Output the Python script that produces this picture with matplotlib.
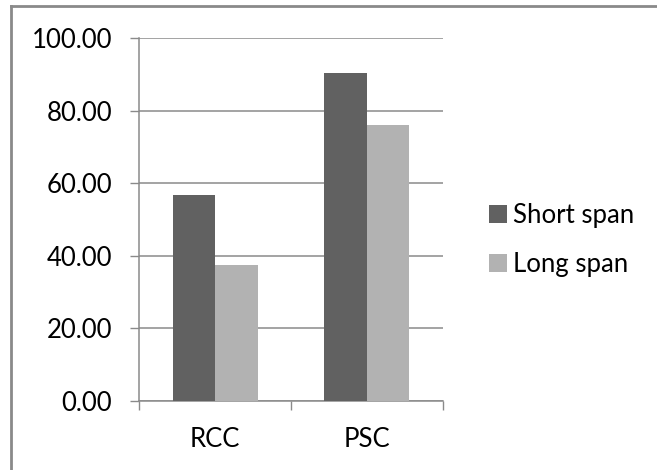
import numpy as np
import matplotlib.pyplot as plt
from matplotlib.lines import Line2D
from matplotlib.ticker import FormatStrFormatter

plt.rcParams['font.family'] = ['Lato', 'DejaVu Sans']

categories = ['RCC', 'PSC']
short_span = [56.7, 90.4]
long_span = [37.5, 76.1]
series_names = ['Short span', 'Long span']

dark = '#616161'
light = '#b2b2b2'
axis_grey = '#8a8a8a'
fs = 18.5

fig = plt.figure(figsize=(6.57, 4.70), dpi=100)
ax = fig.add_axes([139.3 / 657, 1 - 400.7 / 470, (442.7 - 139.3) / 657, (400.7 - 38.3) / 470])

x = np.arange(len(categories))
w = 0.28
ax.bar(x - w / 2, short_span, w, color=dark, label=series_names[0], zorder=3)
ax.bar(x + w / 2, long_span, w, color=light, label=series_names[1], zorder=3)

ax.set_xlim(-0.5, len(categories) - 0.5)
ax.set_ylim(0, 100)
ax.set_yticks(np.arange(0, 101, 20))
ax.yaxis.set_major_formatter(FormatStrFormatter('%.2f'))
ax.yaxis.grid(True, color=axis_grey, linewidth=1.1, zorder=0)

# category boundaries as ticks, names in between
ax.set_xticks(np.arange(-0.5, len(categories), 1.0))
ax.set_xticklabels([])
ax.set_xticks(x, minor=True)
ax.set_xticklabels(categories, minor=True)
ax.tick_params(axis='x', which='minor', length=0, pad=19, labelsize=fs)
ax.tick_params(axis='x', which='major', length=6.5, width=1, color=axis_grey)
ax.tick_params(axis='y', length=6.5, width=1, color=axis_grey, pad=13, labelsize=fs)

for s in ['top', 'right']:
    ax.spines[s].set_visible(False)
for s in ['left', 'bottom']:
    ax.spines[s].set_color(axis_grey)
    ax.spines[s].set_linewidth(1.1)

ax.legend(loc='center left', bbox_to_anchor=(489 / 657, 1 - 240 / 470),
          bbox_transform=fig.transFigure, frameon=False, fontsize=fs,
          handlelength=0.7, handleheight=0.7, handletextpad=0.25,
          labelspacing=0.95, borderaxespad=0, borderpad=0)

# outer chart frame (only top and left edges visible in the crop)
fig.add_artist(Line2D([11 / 657, 11 / 657], [0, 1 - 5.5 / 470], transform=fig.transFigure,
                      color=axis_grey, linewidth=2))
fig.add_artist(Line2D([11 / 657, 1], [1 - 5.5 / 470, 1 - 5.5 / 470], transform=fig.transFigure,
                      color=axis_grey, linewidth=2))

fig.savefig('out.png', dpi=100)
